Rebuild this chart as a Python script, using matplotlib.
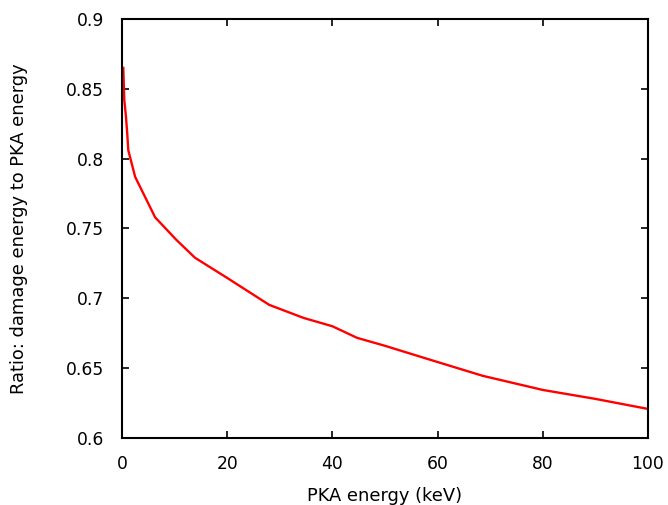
import matplotlib
matplotlib.use("Agg")
import matplotlib.pyplot as plt

# PKA energy (keV) and damage-energy ratio
pka_energy = [0.25, 0.44, 0.76, 1.0, 1.2, 2.5, 6.3, 10.3, 13.9, 20, 28, 34.5,
              40, 44.7, 50, 58.6, 68.6, 80, 90, 100]
ratio = [0.865, 0.842, 0.830, 0.818, 0.806, 0.787, 0.758, 0.742, 0.729,
         0.7146, 0.6953, 0.686, 0.680, 0.6717, 0.666, 0.656, 0.6445, 0.6344,
         0.628, 0.6208]

xticks = [0, 20, 40, 60, 80, 100]
yticks = [0.6, 0.65, 0.7, 0.75, 0.8, 0.85, 0.9]
ytick_labels = ["0.6", "0.65", "0.7", "0.75", "0.8", "0.85", "0.9"]

plt.rcParams.update({'font.size': 12.3, 'font.family': 'DejaVu Sans'})

fig = plt.figure(figsize=(6.68, 5.05), dpi=100)
ax = fig.add_axes([0.1826, 0.1327, 0.7874, 0.8297])
ax.plot(pka_energy, ratio, color='red', lw=1.7)

ax.set_xlim(0, 100)
ax.set_ylim(0.6, 0.9)
ax.set_xticks(xticks)
ax.set_yticks(yticks)
ax.set_yticklabels(ytick_labels)
ax.tick_params(axis='both', direction='in', length=5, width=1.2,
               top=True, right=True, colors='black')
ax.tick_params(axis='y', pad=13)
ax.tick_params(axis='x', pad=12)
for s in ax.spines.values():
    s.set_linewidth(1.5)

ax.set_xlabel("PKA energy (keV)", fontsize=12.9, labelpad=10)
ax.set_ylabel("Ratio: damage energy to PKA energy", fontsize=12.9, labelpad=27)

plt.savefig('out.png', dpi=100)
